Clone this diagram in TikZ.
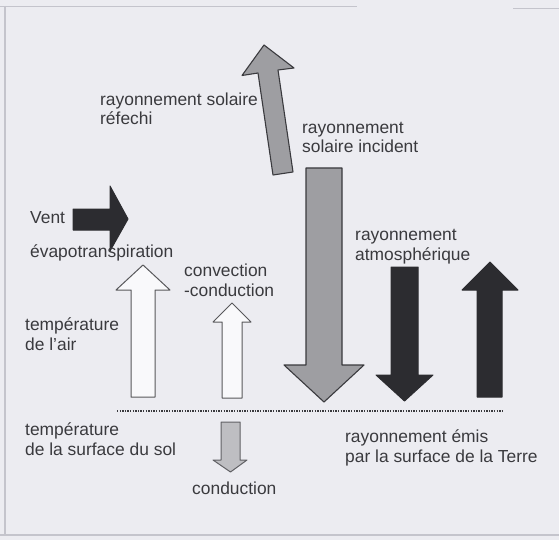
\documentclass[tikz,border=0pt]{standalone}
\usepackage{fontspec}
\setmainfont{Liberation Sans}
\usepackage{xcolor}
\usepackage{tikz}

\definecolor{fond}{RGB}{236,236,241}
\definecolor{cadre}{RGB}{196,196,204}
\definecolor{texte}{RGB}{58,58,62}
\definecolor{gris}{RGB}{158,158,162}
\definecolor{grisclair}{RGB}{190,190,194}
\definecolor{noir}{RGB}{44,44,48}

\tikzset{
  etiquette/.style={anchor=base west, inner sep=0pt, align=left, text=texte,
    font=\fontsize{17.4}{19.5}\selectfont},
  flechegrise/.style={draw=texte, line width=1.1pt, fill=gris, line join=round},
  flecheclaire/.style={draw=texte!80, line width=1pt, fill=grisclair, line join=round},
  flechenoire/.style={draw=noir, line width=1pt, fill=noir, line join=round},
  flecheblanche/.style={draw=texte!85, line width=1pt, fill=white!70!fond, line join=round},
}

\begin{document}
\begin{tikzpicture}[x=1pt, y=-1pt]
        \useasboundingbox (0,0) rectangle (559,540);
        % Fond et cadre
        \fill[fond] (0,0) rectangle (559,540);
        \draw[cadre, line width=1.2pt] (0,6.5) -- (357,6.5);
        \draw[cadre, line width=1.2pt] (513,8.5) -- (559,8.5);
        \draw[cadre, line width=1.2pt] (5,6) -- (5,535);
        \draw[cadre, line width=1.2pt] (0,535) -- (559,535);

        % Surface du sol (base = derniere ligne des etiquettes)
        \draw[texte, line width=1.8pt, dash pattern=on 1.3pt off 1.3pt] (117,411) -- (502,411);

        % Rayonnement solaire reflechi
        \draw[flechegrise] (273,175) -- (293,172) -- (278,70) -- (294,68) -- (264,45)
          -- (242,75.5) -- (258,73) -- cycle;
        \node[etiquette] (reflechi) at (100,125) {rayonnement solaire\\réfechi};

        % Rayonnement solaire incident
        \draw[flechegrise] (306,168) -- (342,168) -- (342,365) -- (364,365) -- (324,402)
          -- (284,365) -- (306,365) -- cycle;
        \node[etiquette] (incident) at (302,153) {rayonnement\\solaire incident};

        % Rayonnement atmospherique
        \draw[flechenoire] (391,267) -- (418,267) -- (418,375) -- (433,375) -- (404.5,401)
          -- (376,375) -- (391,375) -- cycle;
        \node[etiquette] (atmo) at (355,260) {rayonnement\\atmosphérique};

        % Rayonnement emis par la Terre
        \draw[flechenoire] (477,397) -- (502,397) -- (502,290) -- (518,290) -- (490,262)
          -- (462,290) -- (477,290) -- cycle;
        \node[etiquette] (emis) at (345,462) {rayonnement émis\\par la surface de la Terre};

        % Vent
        \draw[flechenoire] (73,209) -- (110,209) -- (110,186) -- (128,219) -- (110,251)
          -- (110,230) -- (73,230) -- cycle;
        \node[etiquette] (vent) at (30,223) {Vent};

        % Evapotranspiration
        \node[etiquette] (evapo) at (30,257) {évapotranspiration};
        \draw[flecheblanche] (131,397) -- (155,397) -- (155,290) -- (170,290) -- (143,265)
          -- (116,290) -- (131,290) -- cycle;

        % Convection - conduction
        \draw[flecheblanche] (222,398) -- (242,398) -- (242,322) -- (251,322) -- (232,303)
          -- (213,322) -- (222,322) -- cycle;
        \node[etiquette] (convection) at (184,296) {convection\\-conduction};

        % Temperatures
        \node[etiquette] (tair) at (25,350) {température\\de l'air};
        \node[etiquette] (tsol) at (25,455) {température\\de la surface du sol};

        % Conduction dans le sol
        \draw[flecheclaire] (221,422) -- (240,422) -- (240,460) -- (247,460) -- (230.5,472)
          -- (213,460) -- (221,460) -- cycle;
        \node[etiquette] (conduction) at (192,494) {conduction};
    \end{tikzpicture}
\end{document}
